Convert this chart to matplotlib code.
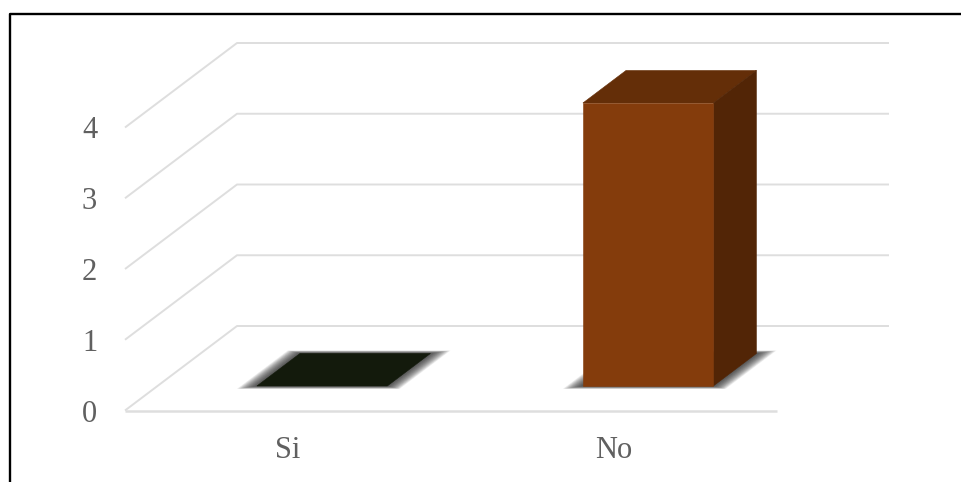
"""Pseudo-3D column chart (Si / No) drawn with a sheared depth axis."""

import matplotlib
matplotlib.use('Agg')
import matplotlib.pyplot as plt
from matplotlib.lines import Line2D
from matplotlib.patches import Polygon

categories = ['Si', 'No']
values = [0, 4]
y_ticks = [0, 1, 2, 3, 4]

front_colors = ['#131A0C', '#843C0C']
top_colors = ['#131A0C', '#642E08']
side_colors = ['#131A0C', '#522506']

GRID = '#DEDEDE'
TEXT = '#606060'

# oblique projection: shift in data units for depth 0..1
DEPTH_X = 112 / 326
DEPTH_Y = 84.5 / 70.75
BAR_WIDTH = 0.40
BAR_SHIFT = 0.005
BAR_D0, BAR_D1 = 0.29, 0.675

W, H = 961, 482
fig = plt.figure(figsize=(W / 100, H / 100), dpi=100, facecolor='white')
ax = fig.add_axes([125 / W, 1 - 410.5 / H, 652 / W, 283 / H])
ax.set_xlim(-0.5, 1.5)
ax.set_ylim(0, 4)
ax.patch.set_visible(False)
for spine in ax.spines.values():
    spine.set_visible(False)


def proj(x, v, d):
    return x + d * DEPTH_X, v + d * DEPTH_Y


def line3d(pts, **kw):
    xs, ys = zip(*[proj(*p) for p in pts])
    ax.plot(xs, ys, color=GRID, clip_on=False, solid_capstyle='butt', zorder=1, **kw)


def face(pts, color, zorder=4, lw=0.4):
    ax.add_patch(Polygon([proj(*p) for p in pts], closed=True, facecolor=color,
                         edgecolor=color if lw else 'none', linewidth=lw,
                         clip_on=False, zorder=zorder))


# walls and floor
for v in y_ticks:
    line3d([(-0.5, v, 0), (-0.5, v, 1), (1.5, v, 1)], linewidth=1.4)
line3d([(-0.5, 0, 0), (1.5, 0, 0)], linewidth=1.8)

# columns
for i, val in enumerate(values):
    x0, x1 = i + BAR_SHIFT - BAR_WIDTH / 2, i + BAR_SHIFT + BAR_WIDTH / 2

    # soft floor shadow, built up from many faint widening layers
    n_layers = 30
    for k in range(n_layers):
        t = 1 - k / n_layers
        pad = 0.05 * t
        pad_d = 0.035 * t
        face([(x0 - pad, 0, BAR_D0 - pad_d), (x1 + pad, 0, BAR_D0 - pad_d),
              (x1 + pad, 0, BAR_D1 + pad_d), (x0 - pad, 0, BAR_D1 + pad_d)],
             (0.15, 0.15, 0.15, 0.045), zorder=2, lw=0)

    face([(x0, val, BAR_D0), (x1, val, BAR_D0), (x1, val, BAR_D1), (x0, val, BAR_D1)],
         top_colors[i])
    if val > 0:
        face([(x1, 0, BAR_D0), (x1, 0, BAR_D1), (x1, val, BAR_D1), (x1, val, BAR_D0)],
             side_colors[i])
        face([(x0, 0, BAR_D0), (x1, 0, BAR_D0), (x1, val, BAR_D0), (x0, val, BAR_D0)],
             front_colors[i])

ax.set_xticks(range(len(categories)))
ax.set_xticklabels(categories, family='Liberation Serif', fontsize=22, color=TEXT)
ax.set_yticks(y_ticks)
ax.set_yticklabels([str(v) for v in y_ticks], family='Liberation Serif', fontsize=22, color=TEXT)
ax.tick_params(axis='x', length=0, pad=18)
ax.tick_params(axis='y', length=0, pad=20)

# black frame of the pasted picture (top and left only)
fig.add_artist(Line2D([10 / W, 10 / W, 1], [0, 1 - 13.5 / H, 1 - 13.5 / H],
                      color='black', linewidth=1.7))

fig.savefig('out.png', dpi=100)
